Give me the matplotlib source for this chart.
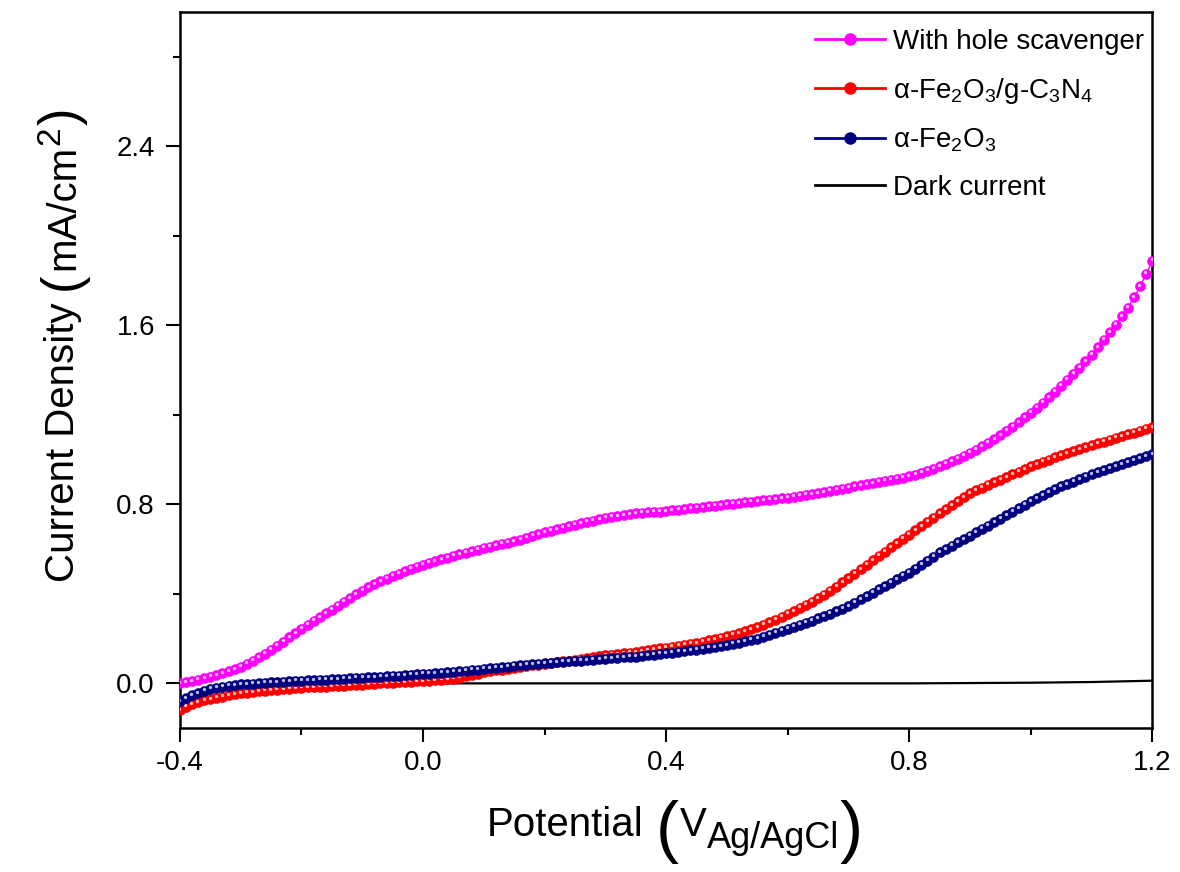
import matplotlib
matplotlib.use("Agg")
import matplotlib.pyplot as plt
import matplotlib.transforms as mtransforms
from matplotlib.ticker import MultipleLocator
import numpy as np

#------------------------------------------------------------------------------
# Data (potential step 0.01 V)

potential = np.round(np.arange(-0.40, 1.2001, 0.01), 2)

hole_scavenger = [
    0.00, 0.005, 0.01, 0.016, 0.022, 0.03, 0.037, 0.045, 0.054, 0.064,
    0.075, 0.088, 0.102, 0.117, 0.133, 0.15, 0.168, 0.187, 0.206, 0.225,
    0.245, 0.262, 0.279, 0.296, 0.313, 0.33, 0.347, 0.364, 0.381, 0.398,
    0.415, 0.429, 0.443, 0.456, 0.468, 0.48, 0.491, 0.502, 0.512, 0.521,
    0.53, 0.538, 0.546, 0.554, 0.562, 0.57, 0.577, 0.584, 0.591, 0.598,
    0.605, 0.611, 0.617, 0.623, 0.629, 0.635, 0.643, 0.651, 0.659, 0.667,
    0.675, 0.682, 0.689, 0.696, 0.703, 0.71, 0.716, 0.722, 0.728, 0.734,
    0.74, 0.744, 0.748, 0.752, 0.756, 0.76, 0.762, 0.764, 0.766, 0.768,
    0.77, 0.773, 0.776, 0.779, 0.782, 0.785, 0.788, 0.791, 0.794, 0.797,
    0.80, 0.803, 0.806, 0.809, 0.812, 0.815, 0.818, 0.821, 0.824, 0.827,
    0.83, 0.834, 0.838, 0.842, 0.846, 0.85, 0.855, 0.86, 0.865, 0.87,
    0.875, 0.88, 0.885, 0.89, 0.895, 0.90, 0.905, 0.91, 0.915, 0.92,
    0.925, 0.933, 0.941, 0.95, 0.96, 0.97, 0.981, 0.993, 1.005, 1.017,
    1.03, 1.044, 1.059, 1.075, 1.092, 1.11, 1.129, 1.148, 1.168, 1.189,
    1.21, 1.232, 1.255, 1.279, 1.304, 1.33, 1.356, 1.383, 1.411, 1.44,
    1.47, 1.502, 1.535, 1.569, 1.604, 1.64, 1.68, 1.725, 1.775, 1.83, 1.89,
]

fe2o3_c3n4 = [
    -0.12, -0.105, -0.093, -0.084, -0.076, -0.07, -0.064, -0.059, -0.054, -0.049,
    -0.045, -0.042, -0.039, -0.036, -0.033, -0.03, -0.028, -0.026, -0.024, -0.022,
    -0.02, -0.018, -0.017, -0.015, -0.014, -0.012, -0.011, -0.01, -0.008, -0.007,
    -0.006, -0.004, -0.002, 0.0, 0.001, 0.003, 0.004, 0.006, 0.007, 0.009,
    0.01, 0.012, 0.014, 0.016, 0.018, 0.02, 0.026, 0.032, 0.038, 0.044,
    0.05, 0.054, 0.058, 0.062, 0.066, 0.07, 0.074, 0.077, 0.081, 0.084,
    0.088, 0.091, 0.095, 0.098, 0.102, 0.105, 0.109, 0.113, 0.117, 0.121,
    0.125, 0.128, 0.131, 0.134, 0.137, 0.14, 0.144, 0.148, 0.152, 0.156,
    0.16, 0.164, 0.168, 0.172, 0.176, 0.18, 0.186, 0.192, 0.198, 0.204,
    0.21, 0.217, 0.225, 0.233, 0.241, 0.25, 0.261, 0.273, 0.285, 0.297,
    0.31, 0.323, 0.337, 0.351, 0.365, 0.38, 0.397, 0.415, 0.433, 0.451,
    0.47, 0.49, 0.51, 0.53, 0.55, 0.57, 0.589, 0.608, 0.627, 0.646,
    0.665, 0.684, 0.703, 0.722, 0.741, 0.76, 0.778, 0.796, 0.814, 0.832,
    0.85, 0.863, 0.875, 0.887, 0.899, 0.91, 0.922, 0.934, 0.946, 0.958,
    0.97, 0.98, 0.99, 1.0, 1.01, 1.02, 1.029, 1.038, 1.047, 1.056,
    1.065, 1.073, 1.081, 1.089, 1.097, 1.105, 1.113, 1.121, 1.129, 1.137, 1.145,
]

fe2o3 = [
    -0.08, -0.066, -0.054, -0.044, -0.034, -0.025, -0.02, -0.015, -0.011, -0.008,
    -0.005, -0.003, -0.001, 0.001, 0.003, 0.005, 0.006, 0.008, 0.009, 0.011,
    0.012, 0.013, 0.014, 0.016, 0.017, 0.018, 0.019, 0.021, 0.022, 0.024,
    0.025, 0.027, 0.028, 0.03, 0.031, 0.033, 0.035, 0.037, 0.038, 0.04,
    0.042, 0.044, 0.046, 0.048, 0.05, 0.052, 0.055, 0.057, 0.06, 0.062,
    0.065, 0.068, 0.07, 0.073, 0.075, 0.078, 0.08, 0.083, 0.085, 0.088,
    0.09, 0.092, 0.094, 0.096, 0.098, 0.10, 0.102, 0.104, 0.106, 0.108,
    0.11, 0.112, 0.114, 0.116, 0.118, 0.12, 0.123, 0.126, 0.129, 0.132,
    0.135, 0.138, 0.141, 0.144, 0.147, 0.15, 0.154, 0.158, 0.162, 0.166,
    0.17, 0.176, 0.182, 0.188, 0.194, 0.20, 0.209, 0.218, 0.227, 0.236,
    0.245, 0.254, 0.263, 0.272, 0.281, 0.29, 0.301, 0.312, 0.323, 0.334,
    0.345, 0.36, 0.375, 0.39, 0.405, 0.42, 0.435, 0.45, 0.465, 0.48,
    0.495, 0.513, 0.531, 0.549, 0.567, 0.585, 0.6, 0.615, 0.63, 0.645,
    0.66, 0.675, 0.69, 0.705, 0.72, 0.735, 0.751, 0.767, 0.783, 0.799,
    0.815, 0.828, 0.841, 0.854, 0.867, 0.88, 0.891, 0.902, 0.913, 0.924,
    0.935, 0.944, 0.953, 0.962, 0.971, 0.98, 0.989, 0.998, 1.007, 1.016, 1.025,
]

dark_potential = [-0.40, -0.38, -0.35, -0.30, -0.25, -0.20, -0.10, 0.0, 0.2, 0.4, 0.6, 0.8, 1.0, 1.1, 1.2]
dark_current = [-0.13, -0.09, -0.06, -0.035, -0.02, -0.01, -0.003, 0.0, 0.0, 0.0, 0.0, 0.0, 0.003, 0.006, 0.012]

labels = ["With hole scavenger",
          r"α-Fe$_2$O$_3$/g-C$_3$N$_4$",
          r"α-Fe$_2$O$_3$",
          "Dark current"]
colors = ["#ff00ff", "#ff0000", "#000080", "#000000"]

#------------------------------------------------------------------------------
# Plot

plt.rcParams['font.family'] = ['Liberation Sans', 'DejaVu Sans']
plt.rcParams['mathtext.fontset'] = 'custom'
plt.rcParams['mathtext.rm'] = 'Liberation Sans'
plt.rcParams['mathtext.it'] = 'Liberation Sans:italic'
plt.rcParams['mathtext.default'] = 'regular'

fig = plt.figure(figsize=(11.8, 8.72), dpi=100)
ax = fig.add_axes([0.1525, 0.165, 0.824, 0.821])

shine = mtransforms.offset_copy(ax.transData, fig=fig, x=-0.5, y=1.1, units='points')

ax.plot(dark_potential, dark_current, color=colors[3], lw=1.6, zorder=2)

series = [(fe2o3_c3n4, colors[1], 3), (fe2o3, colors[2], 4), (hole_scavenger, colors[0], 5)]
for values, c, z in series:
    ax.plot(potential, values, '-o', color=c, lw=1, ms=7.2, mec=c, mew=0.4, zorder=z)
    ax.plot(potential, values, 'o', color='white', ms=2.4, mew=0, alpha=0.75,
            transform=shine, zorder=z)

handles = []
for c in colors[:3]:
    h, = ax.plot([], [], '-o', color=c, lw=2, ms=8, mec=c)
    handles.append(h)
h, = ax.plot([], [], '-', color=colors[3], lw=2)
handles.append(h)

ax.legend(handles, labels, loc='upper right', bbox_to_anchor=(1.009, 1.0),
          frameon=False, fontsize=20, handlelength=2.5, handletextpad=0.3,
          labelspacing=0.75, borderaxespad=0.2, numpoints=1)

ax.set_xlim(-0.4, 1.2)
ax.set_ylim(-0.2, 3.0)
ax.xaxis.set_major_locator(MultipleLocator(0.4))
ax.xaxis.set_minor_locator(MultipleLocator(0.2))
ax.yaxis.set_major_locator(MultipleLocator(0.8))
ax.yaxis.set_minor_locator(MultipleLocator(0.4))
ax.set_xticks([-0.4, 0.0, 0.4, 0.8, 1.2], ['-0.4', '0.0', '0.4', '0.8', '1.2'])
ax.set_yticks([0.0, 0.8, 1.6, 2.4], ['0.0', '0.8', '1.6', '2.4'])

ax.tick_params(which='major', direction='out', length=10, width=1.5, labelsize=20, pad=6)
ax.tick_params(which='minor', direction='out', length=5, width=1.5)
ax.tick_params(axis='y', which='major', pad=8)
for s in ax.spines.values():
    s.set_linewidth(1.8)


# axis titles built from pieces so the brackets and sub/superscripts are big
def text_run(pieces, x, y, rotation=0):
    r = fig.canvas.get_renderer()
    pix = mtransforms.IdentityTransform()
    for s, size, off, gap in pieces:
        if rotation == 0:
            t = fig.text(x, y + off, s, fontsize=size, ha='left', va='baseline', transform=pix)
            x += t.get_window_extent(r).width + gap
        else:
            t = fig.text(x - off, y, s, fontsize=size, ha='left', va='baseline',
                         rotation=90, rotation_mode='anchor', transform=pix)
            y += t.get_window_extent(r).height + gap


text_run([("Potential", 29, 0, 12),
          ("(", 50, -14, 1),
          ("V", 29, 0, 0),
          ("Ag/AgCl", 26, -12, 1),
          (")", 50, -14, 0)], 487, 36)

text_run([("Current Density", 29, 0, 13),
          ("(", 38, -3, 2),
          ("mA/cm", 29, 0, 0),
          ("2", 24, 15, 1),
          (")", 38, -3, 0)], 74, 290, rotation=90)

fig.savefig('out.png', dpi=100)
